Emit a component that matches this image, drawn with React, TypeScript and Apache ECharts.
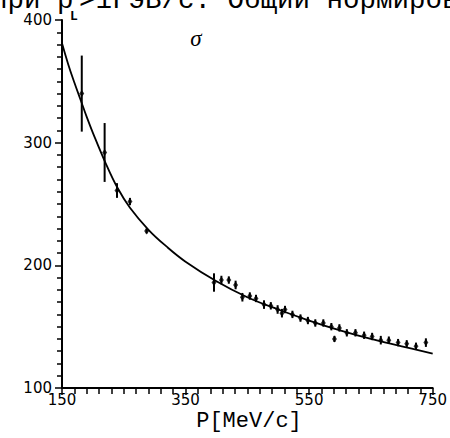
import React, { useEffect, useRef } from "react";
import * as echarts from "echarts";

// Fit curve
const curveX = [150, 160, 170, 180, 190, 200, 220, 240, 260, 290, 320, 350, 400, 450, 500, 550, 600, 650, 700, 750];
const curveY = [381, 364, 349, 335, 321, 308, 284, 263, 247, 229, 215, 203, 187, 174, 164, 155, 147, 140, 134, 128];

// Measured points: momentum, sigma, error
const pX = [182, 219, 239, 260, 287, 396, 408, 420, 431, 442, 454, 464, 477, 488, 499, 506, 511, 523, 536, 548, 560, 573, 586, 591, 599, 611, 625, 639, 652, 666, 679, 694, 708, 723, 739];
const pY = [340, 292, 261, 252, 228, 186, 188, 188, 184, 174, 175, 173, 168, 167, 164, 161, 164, 160, 157, 155, 153, 153, 150, 140, 149, 145, 145, 143, 142, 139, 139, 137, 136, 134, 137];
const pErr = [31, 24, 6, 3, 2, 7.5, 3.5, 3, 3.5, 3.5, 3, 3, 3.5, 3, 3.5, 3.5, 3, 3, 3, 3, 3, 3, 3, 2.5, 3, 3, 3, 3, 3, 3.5, 3, 3, 3, 3, 3.5];

const xTicks = { min: 150, max: 750, interval: 200 };
const yTicks = { min: 100, max: 400, interval: 100 };

const headerLeft = "при p";
const headerSub = "L";
const headerRight = ">1ГэВ/с. Общий нормирово";
const sigmaLabel = "σ";
const xName = "P[MeV/c]";

export default function App() {
  const ref = useRef<HTMLDivElement>(null);
  useEffect(() => {
    if (!ref.current) return;
    const chart = echarts.init(ref.current, null, { renderer: "svg" });
    const curve = curveX.map((x, i) => [x, curveY[i]]);
    const pts = pX.map((x, i) => [x, pY[i], pErr[i]]);
    const labelStyle = { color: "#000", fontFamily: "DejaVu Sans", fontSize: 15 };
    const headStyle = {
      fontFamily: "Liberation Mono",
      fontSize: 27.5,
      fill: "#000",
      verticalAlign: "middle",
      align: "left",
    };
    chart.setOption({
      animation: false,
      backgroundColor: "#fff",
      grid: { left: 62, right: 17, top: 20, bottom: 50 },
      xAxis: {
        type: "value",
        min: xTicks.min,
        max: xTicks.max,
        interval: xTicks.interval,
        axisLine: { show: true, onZero: false, lineStyle: { color: "#000", width: 2 } },
        axisTick: { show: true, inside: false, length: 7, lineStyle: { color: "#000", width: 1.5 } },
        minorTick: { show: true, splitNumber: 10, length: 6, lineStyle: { color: "#000", width: 1.5 } },
        splitLine: { show: false },
        axisLabel: { ...labelStyle, margin: 4 },
      },
      yAxis: {
        type: "value",
        min: yTicks.min,
        max: yTicks.max,
        interval: yTicks.interval,
        axisLine: { show: true, onZero: false, lineStyle: { color: "#000", width: 2 } },
        axisTick: { show: true, inside: false, length: 7, lineStyle: { color: "#000", width: 1.5 } },
        minorTick: { show: true, splitNumber: 10, length: 5, lineStyle: { color: "#000", width: 1.5 } },
        splitLine: { show: false },
        axisLabel: { ...labelStyle, margin: 10 },
      },
      series: [
        {
          type: "line",
          data: curve,
          smooth: 0.4,
          showSymbol: false,
          lineStyle: { color: "#000", width: 1.8 },
          z: 2,
        },
        {
          type: "custom",
          data: pts,
          encode: { x: 0, y: 1 },
          renderItem: (params: any, api: any) => {
            const x = api.value(0);
            const y = api.value(1);
            const e = api.value(2);
            const top = api.coord([x, y + e]);
            const bot = api.coord([x, y - e]);
            return {
              type: "line",
              shape: { x1: top[0], y1: top[1], x2: bot[0], y2: bot[1] },
              style: { stroke: "#000", lineWidth: 2 },
            };
          },
          z: 3,
        },
        {
          type: "scatter",
          data: pts.map((p) => [p[0], p[1]]),
          symbol: "diamond",
          symbolSize: [5, 7],
          itemStyle: { color: "#000" },
          z: 4,
        },
      ],
      graphic: [
        { type: "text", x: -9, y: 0, style: { ...headStyle, text: headerLeft } },
        { type: "text", x: 79, y: 0, style: { ...headStyle, text: headerRight } },
        {
          type: "text",
          x: 70,
          y: 16,
          style: {
            text: headerSub,
            fontFamily: "Liberation Mono",
            fontSize: 13,
            fontWeight: "bold",
            fill: "#000",
            verticalAlign: "middle",
            align: "left",
          },
        },
        {
          type: "text",
          x: 196,
          y: 38,
          style: {
            text: sigmaLabel,
            fontFamily: "Liberation Serif",
            fontStyle: "italic",
            fontSize: 23,
            fill: "#000",
            verticalAlign: "middle",
            align: "center",
          },
        },
        {
          type: "text",
          x: 249,
          y: 421,
          style: {
            text: xName,
            fontFamily: "Liberation Mono",
            fontSize: 22,
            fill: "#000",
            verticalAlign: "middle",
            align: "center",
          },
        },
      ],
    });
    return () => chart.dispose();
  }, []);
  return (
    <div
      ref={ref}
      style={{ position: "fixed", left: 0, top: 0, width: 450, height: 438, background: "#fff" }}
    />
  );
}
